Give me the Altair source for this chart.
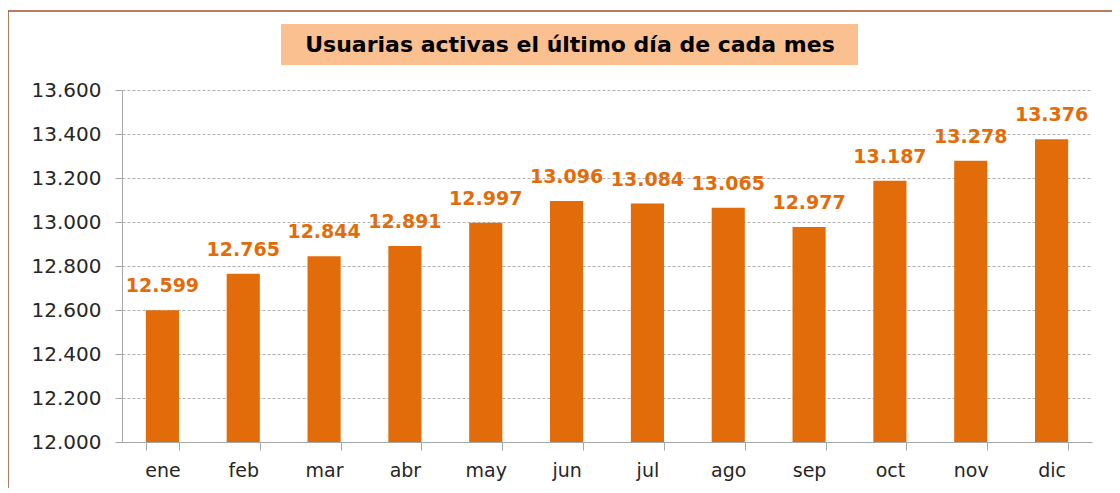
import altair as alt
import pandas as pd

months = ["ene", "feb", "mar", "abr", "may", "jun", "jul", "ago", "sep", "oct", "nov", "dic"]
values = [12599, 12765, 12844, 12891, 12997, 13096, 13084, 13065, 12977, 13187, 13278, 13376]
y_ticks = [12000, 12200, 12400, 12600, 12800, 13000, 13200, 13400, 13600]
y_min, y_max = 12000, 13600
title_text = "Usuarias activas el último día de cada mes"

df = pd.DataFrame({"mes": months, "valor": values})
df["etiqueta"] = [f"{v:,}".replace(",", ".") for v in values]

ORANGE = "#E36C0A"
FONT = "DejaVu Sans"

x = alt.X("mes:N", sort=months, title=None,
          scale=alt.Scale(paddingInner=0.59, paddingOuter=0.295),
          axis=alt.Axis(labelAngle=0, tickBand="extent", tickSize=8, tickColor="#A6A6A6",
                        domainColor="#A6A6A6", labelFontSize=19, labelFont=FONT,
                        labelColor="#262626", labelPadding=11, grid=False))
y = alt.Y("valor:Q", title=None,
          scale=alt.Scale(domain=[y_min, y_max], nice=False, zero=False),
          axis=alt.Axis(values=y_ticks, labelExpr="replace(format(datum.value, ',d'), ',', '.')",
                        tickSize=7, tickColor="#A6A6A6", domainColor="#A6A6A6",
                        labelFontSize=20, labelFont=FONT, labelColor="#262626", labelPadding=14,
                        grid=True, gridColor="#B0B0B0", gridDash=[3, 2]))

base = alt.Chart(df)
bars = base.mark_bar(color=ORANGE).encode(x=x, y=y, y2=alt.datum(y_min))
labels = base.mark_text(color=ORANGE, fontWeight="bold", fontSize=19, font=FONT,
                        baseline="alphabetic", dy=-18).encode(x=x, y=y, text="etiqueta:N")

title_box = alt.Chart(pd.DataFrame({"t": [title_text]})).mark_rect(color="#FAC090").encode(
    x=alt.value(159), x2=alt.value(736), y=alt.value(-66), y2=alt.value(-25))
title = alt.Chart(pd.DataFrame({"t": [title_text]})).mark_text(
    fontWeight="bold", fontSize=22, font=FONT, color="#000000", baseline="middle", align="center"
).encode(x=alt.value(448), y=alt.value(-45), text="t:N")

border_left = alt.Chart(pd.DataFrame({"t": [0]})).mark_rule(color="#A0522D", strokeWidth=1.5).encode(
    x=alt.value(-114), y=alt.value(-79), y2=alt.value(400))
border_top = alt.Chart(pd.DataFrame({"t": [0]})).mark_rule(color="#A0522D", strokeWidth=1.5).encode(
    x=alt.value(-114), x2=alt.value(1000), y=alt.value(-79))

chart = alt.layer(title_box, title, border_left, border_top, bars, labels).properties(
    width=970, height=352,
    autosize=alt.AutoSizeParams(type="none"),
    padding={"left": 114, "top": 82, "right": 20, "bottom": 46},
    background="white",
).configure_view(stroke=None)

chart.save("out.html", embed_options={"renderer": "svg", "actions": False})
